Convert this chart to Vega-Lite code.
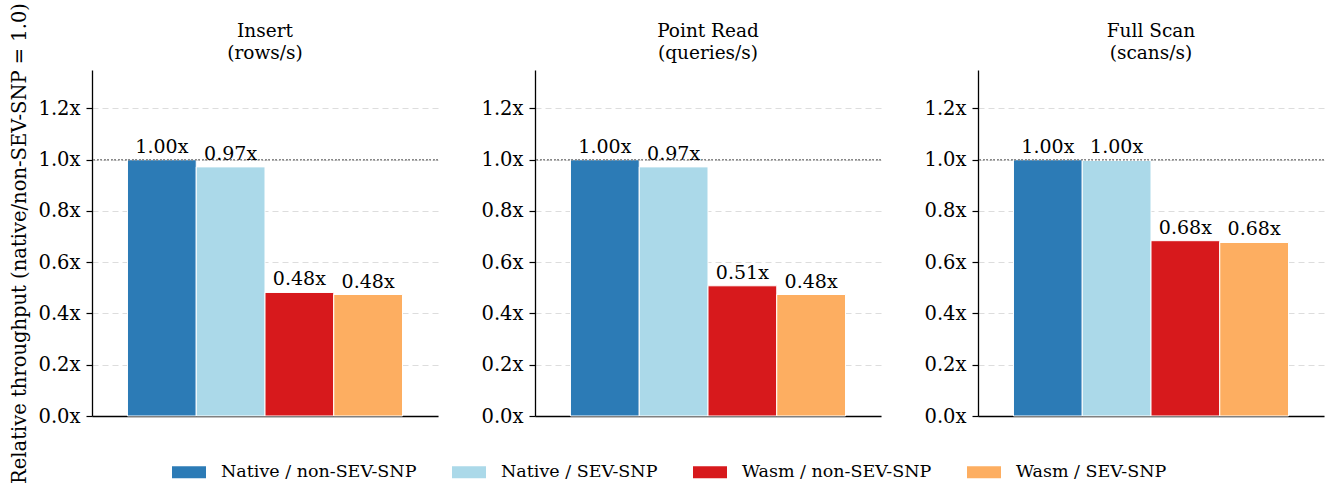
{
  "$schema": "https://vega.github.io/schema/vega-lite/v6.json",
  "background": "white",
  "padding": {"left": 8, "top": 2, "right": 5, "bottom": 0},
  "data": {"values": [
    {"panel": "Insert", "series": "Native / non-SEV-SNP", "value": 1.0, "label": "1.00x"},
    {"panel": "Insert", "series": "Native / SEV-SNP", "value": 0.972, "label": "0.97x"},
    {"panel": "Insert", "series": "Wasm / non-SEV-SNP", "value": 0.482, "label": "0.48x"},
    {"panel": "Insert", "series": "Wasm / SEV-SNP", "value": 0.474, "label": "0.48x"},
    {"panel": "Point Read", "series": "Native / non-SEV-SNP", "value": 1.0, "label": "1.00x"},
    {"panel": "Point Read", "series": "Native / SEV-SNP", "value": 0.972, "label": "0.97x"},
    {"panel": "Point Read", "series": "Wasm / non-SEV-SNP", "value": 0.508, "label": "0.51x"},
    {"panel": "Point Read", "series": "Wasm / SEV-SNP", "value": 0.474, "label": "0.48x"},
    {"panel": "Full Scan", "series": "Native / non-SEV-SNP", "value": 1.0, "label": "1.00x"},
    {"panel": "Full Scan", "series": "Native / SEV-SNP", "value": 0.997, "label": "1.00x"},
    {"panel": "Full Scan", "series": "Wasm / non-SEV-SNP", "value": 0.684, "label": "0.68x"},
    {"panel": "Full Scan", "series": "Wasm / SEV-SNP", "value": 0.677, "label": "0.68x"}
  ]},
  "spacing": 4,
  "hconcat": [
    {
      "width": 1, "height": 346,
      "transform": [{"filter": "datum.panel === 'Insert'"}],
      "mark": {"type": "point", "opacity": 0},
      "encoding": {
        "y": {"field": "value", "type": "quantitative", "scale": {"domain": [0, 1.35], "nice": false}, "axis": {"title": "Relative throughput (native/non-SEV-SNP = 1.0)", "labels": false, "ticks": false, "domain": false, "grid": false, "titlePadding": 0}}
      }
    },
    {
      "spacing": 41,
      "hconcat": [
        {
          "width": 346, "height": 346,
          "title": {"text": ["Insert", "(rows/s)"]},
          "transform": [{"filter": "datum.panel === 'Insert'"}],
          "layer": [
            {"mark": {"type": "bar", "stroke": "white", "strokeWidth": 1},
             "encoding": {
               "x": {"field": "series", "type": "nominal", "sort": null, "scale": {"paddingInner": 0, "paddingOuter": 0.516}, "axis": {"labels": false, "ticks": false, "title": null, "grid": false}},
               "y": {"field": "value", "type": "quantitative", "scale": {"domain": [0, 1.35], "nice": false}, "axis": {"title": null, "values": [0, 0.2, 0.4, 0.6, 0.8, 1.0, 1.2], "labelExpr": "format(datum.value, '.1f') + 'x'"}},
               "color": {"field": "series", "type": "nominal", "sort": null, "scale": {"domain": ["Native / non-SEV-SNP", "Native / SEV-SNP", "Wasm / non-SEV-SNP", "Wasm / SEV-SNP"], "range": ["#2c7bb6", "#abd9e9", "#d7191c", "#fdae61"]}, "legend": {"title": null, "orient": "none", "direction": "horizontal", "legendX": 143, "legendY": 385}}
             }},
            {"mark": {"type": "rule", "color": "#888888", "strokeDash": [1.5, 2], "strokeWidth": 1.2},
             "encoding": {"y": {"datum": 1.0}}},
            {"mark": {"type": "text", "baseline": "bottom", "dy": -3, "fontSize": 19, "color": "black"},
             "encoding": {
               "x": {"field": "series", "type": "nominal", "sort": null},
               "y": {"field": "value", "type": "quantitative"},
               "text": {"field": "label"}
             }}
          ]
        },
        {
          "width": 346, "height": 346,
          "title": {"text": ["Point Read", "(queries/s)"]},
          "transform": [{"filter": "datum.panel === 'Point Read'"}],
          "layer": [
            {"mark": {"type": "bar", "stroke": "white", "strokeWidth": 1},
             "encoding": {
               "x": {"field": "series", "type": "nominal", "sort": null, "scale": {"paddingInner": 0, "paddingOuter": 0.516}, "axis": {"labels": false, "ticks": false, "title": null, "grid": false}},
               "y": {"field": "value", "type": "quantitative", "scale": {"domain": [0, 1.35], "nice": false}, "axis": {"title": null, "values": [0, 0.2, 0.4, 0.6, 0.8, 1.0, 1.2], "labelExpr": "format(datum.value, '.1f') + 'x'"}},
               "color": {"field": "series", "type": "nominal", "sort": null}
             }},
            {"mark": {"type": "rule", "color": "#888888", "strokeDash": [1.5, 2], "strokeWidth": 1.2},
             "encoding": {"y": {"datum": 1.0}}},
            {"mark": {"type": "text", "baseline": "bottom", "dy": -3, "fontSize": 19, "color": "black"},
             "encoding": {
               "x": {"field": "series", "type": "nominal", "sort": null},
               "y": {"field": "value", "type": "quantitative"},
               "text": {"field": "label"}
             }}
          ]
        },
        {
          "width": 346, "height": 346,
          "title": {"text": ["Full Scan", "(scans/s)"]},
          "transform": [{"filter": "datum.panel === 'Full Scan'"}],
          "layer": [
            {"mark": {"type": "bar", "stroke": "white", "strokeWidth": 1},
             "encoding": {
               "x": {"field": "series", "type": "nominal", "sort": null, "scale": {"paddingInner": 0, "paddingOuter": 0.516}, "axis": {"labels": false, "ticks": false, "title": null, "grid": false}},
               "y": {"field": "value", "type": "quantitative", "scale": {"domain": [0, 1.35], "nice": false}, "axis": {"title": null, "values": [0, 0.2, 0.4, 0.6, 0.8, 1.0, 1.2], "labelExpr": "format(datum.value, '.1f') + 'x'"}},
               "color": {"field": "series", "type": "nominal", "sort": null}
             }},
            {"mark": {"type": "rule", "color": "#888888", "strokeDash": [1.5, 2], "strokeWidth": 1.2},
             "encoding": {"y": {"datum": 1.0}}},
            {"mark": {"type": "text", "baseline": "bottom", "dy": -3, "fontSize": 19, "color": "black"},
             "encoding": {
               "x": {"field": "series", "type": "nominal", "sort": null},
               "y": {"field": "value", "type": "quantitative"},
               "text": {"field": "label"}
             }}
          ]
        }
      ],
      "resolve": {"scale": {"x": "independent", "y": "independent"}}
    }
  ],
  "resolve": {"scale": {"y": "independent"}},
  "config": {
    "font": "'DejaVu Serif', 'Liberation Serif', serif",
    "view": {"stroke": null},
    "text": {"font": "'DejaVu Serif', 'Liberation Serif', serif"},
    "title": {"font": "'DejaVu Serif', 'Liberation Serif', serif", "fontSize": 18.5, "fontWeight": "normal", "color": "black", "lineHeight": 21.5, "offset": 8, "anchor": "middle"},
    "axis": {"labelFont": "'DejaVu Serif', 'Liberation Serif', serif", "labelFontSize": 19.5, "labelColor": "black", "titleFont": "'DejaVu Serif', 'Liberation Serif', serif", "titleFontSize": 19.5, "titleFontWeight": "normal", "titleColor": "black", "domainColor": "black", "domainWidth": 1.3, "tickColor": "black", "tickSize": 6, "tickWidth": 1.2, "labelPadding": 6},
    "axisY": {"grid": true, "gridColor": "#dddddd", "gridDash": [6, 4], "gridWidth": 1.2},
    "axisX": {"domainColor": "black"},
    "legend": {"labelFont": "'DejaVu Serif', 'Liberation Serif', serif", "labelFontSize": 17.5, "labelLimit": 400, "labelColor": "black", "symbolType": "M-1,-0.36H1V0.36H-1Z", "symbolSize": 1156, "symbolStrokeWidth": 0, "symbolOpacity": 1, "labelOffset": 15, "columnPadding": 35}
  }
}
